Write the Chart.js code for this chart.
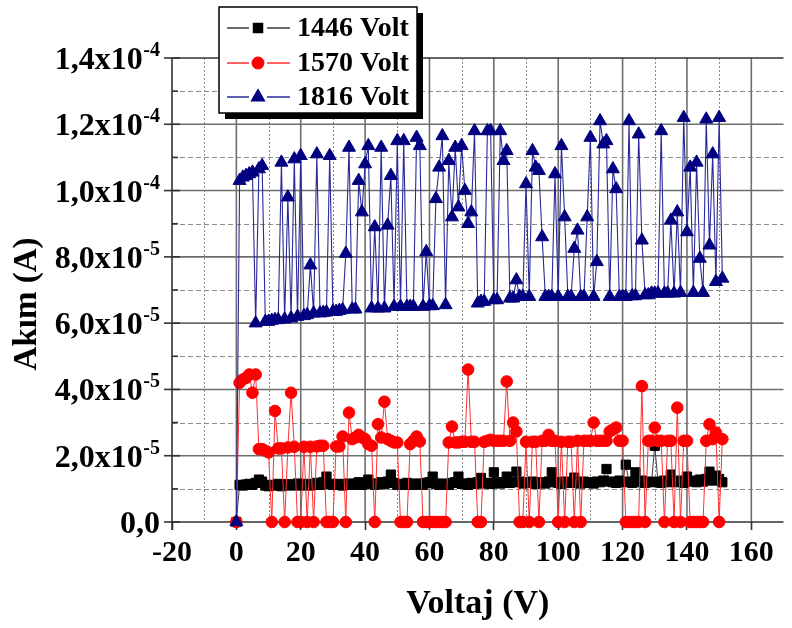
<!DOCTYPE html>
<html><head><meta charset="utf-8">
<script src="https://cdn.jsdelivr.net/npm/chart.js@4"></script>
<style>html,body{margin:0;padding:0;background:#fff}#wrap{width:792px;height:628px;position:relative}</style>
</head><body><div id="wrap"><canvas id="c" width="792" height="628"></canvas></div>
<script>
// Voltaj (V)
const voltaj = [0,1,2,3,4,5,6,7,8,9,10,11,12,13,14,15,16,17,18,19,20,21,22,23,24,25,26,27,28,29,30,31,32,33,34,35,36,37,38,39,40,41,42,43,44,45,46,47,48,49,50,51,52,53,54,55,56,57,58,59,60,61,62,63,64,65,66,67,68,69,70,71,72,73,74,75,76,77,78,79,80,81,82,83,84,85,86,87,88,89,90,91,92,93,94,95,96,97,98,99,100,101,102,103,104,105,106,107,108,109,110,111,112,113,114,115,116,117,118,119,120,121,122,123,124,125,126,127,128,129,130,131,132,133,134,135,136,137,138,139,140,141,142,143,144,145,146,147,148,149,150,151];
// Akım in units of 1e-5 A
const akim1446 = [0,1.12,1.1,1.13,1.15,1.12,1.18,1.28,1.22,1.1,1.08,1.12,1.1,1.15,1.08,1.12,1.14,1.1,1.12,1.16,1.1,1.12,1.15,1.1,1.13,1.18,1.12,1.2,1.37,1.15,1.12,1.12,1.15,1.1,1.14,1.16,1.12,1.15,1.2,1.12,1.18,1.28,1.15,1.12,1.16,1.2,1.14,1.22,1.43,1.18,1.12,1.15,1.12,1.18,1.14,1.12,1.16,1.15,1.12,1.18,1.2,1.37,1.15,1.12,1.16,1.14,1.12,1.18,1.2,1.37,1.15,1.16,1.12,1.18,1.15,1.2,1.33,1.16,1.18,1.15,1.5,1.2,1.16,1.2,1.37,1.18,1.2,1.52,1.22,1.16,1.2,1.18,1.22,1.15,1.2,1.18,1.16,1.22,1.5,1.2,1.18,1.15,1.22,1.2,1.18,1.34,1.2,1.16,1.22,1.18,1.2,1.16,1.22,1.2,1.25,1.6,1.22,1.2,1.18,1.25,1.2,1.73,1.22,1.18,1.5,1.2,1.25,1.18,1.22,1.2,2.3,1.22,1.18,1.25,1.2,1.43,1.22,1.2,1.25,1.18,1.37,1.22,1.25,1.2,1.28,1.22,1.3,1.52,1.25,1.4,1.3,1.2];
const akim1570 = [0,4.2,4.3,4.35,4.45,3.9,4.45,2.2,2.2,2.15,2.1,0,3.35,2.22,2.22,0,2.25,3.9,2.27,0,0,2.27,0,2.27,0,2.28,2.3,2.3,0,0,0,2.28,2.28,2.58,0,3.3,2.5,2.55,2.63,2.55,2.5,2.35,2.3,0,2.95,2.55,3.63,2.5,2.45,2.4,2.4,0,0,0,2.35,2.45,2.58,2.43,0,0,0,0,0,0,0,0,2.4,2.88,2.4,2.4,2.42,2.42,4.6,2.42,2.42,0,0,2.42,2.45,2.48,2.45,2.45,2.45,2.45,4.24,2.45,3.0,2.73,0,0,2.42,0,2.42,2.42,0,2.45,2.45,2.63,2.45,2.45,0,2.42,0,2.42,2.42,0,2.45,0,2.45,2.45,2.45,3.0,2.45,2.45,2.45,2.45,2.73,2.79,2.85,2.45,2.45,0,0,0,0,0,4.1,0,2.45,2.45,2.85,2.45,2.45,0,2.45,2.45,0,3.45,0,2.45,2.45,0,0,0,0,0,2.45,2.95,2.5,2.7,0,2.5];
const akim1816 = [0,10.3,10.4,10.45,10.5,10.55,6.0,10.65,10.75,6.05,6.05,6.08,6.1,6.1,10.85,6.12,9.8,6.15,10.95,6.2,11.05,6.22,6.25,7.75,6.3,11.1,6.3,6.32,6.33,11.05,6.35,6.35,6.38,6.4,8.1,11.3,6.42,6.42,10.3,9.35,10.8,11.35,6.45,8.9,6.45,11.3,6.45,8.95,10.45,6.5,11.5,6.5,11.5,6.5,6.5,6.5,11.6,11.35,6.5,8.15,6.52,6.52,9.75,10.7,11.65,6.55,10.9,9.2,11.3,9.5,11.35,10.0,9.0,9.35,11.8,6.6,6.65,6.65,11.8,11.8,6.7,6.7,11.8,10.9,11.2,6.75,6.75,7.3,6.8,6.8,10.2,6.8,11.2,10.7,10.6,8.6,6.8,6.8,6.8,10.5,6.8,11.35,9.2,6.8,6.8,8.25,8.8,6.8,6.8,9.2,11.6,6.8,7.85,12.1,11.4,11.5,6.8,10.65,10.05,6.8,6.8,6.8,12.1,6.82,6.82,11.7,8.5,6.85,6.85,6.9,6.9,6.9,11.8,6.9,6.9,9.1,6.9,9.35,6.92,12.2,8.75,10.7,6.92,10.85,7.95,6.92,12.15,8.35,11.1,7.25,12.2,7.35];

const seriesNames = ['1446 Volt','1570 Volt','1816 Volt'];
const yTickValues = [0,2,4,6,8,10,12,14];
const yTickMantissas = ['0,0','2,0x10','4,0x10','6,0x10','8,0x10','1,0x10','1,2x10','1,4x10'];
const yTickExponents = ['','-5','-5','-5','-5','-4','-4','-4'];
const xTitle = 'Voltaj (V)';
const yTitle = 'Akım (A)';

const SERIF = '"Liberation Serif", "Times New Roman", serif';

function pts(ys){ return voltaj.map((x,i)=>({x:x, y:ys[i]})); }

const gridPlugin = {
  id:'gridPlugin',
  beforeDatasetsDraw(chart){
    const {ctx, chartArea:a, scales:{x,y}} = chart;
    ctx.save();
    ctx.strokeStyle = '#8a8a8a'; ctx.lineWidth = 1; ctx.setLineDash([2,2]);
    for (let v=-10; v<=170; v+=20){ const px=Math.round(x.getPixelForValue(v))+0.5; if(px>a.left+1 && px<=a.right){ctx.beginPath();ctx.moveTo(px,a.top);ctx.lineTo(px,a.bottom);ctx.stroke();} }
    ctx.setLineDash([5,3]);
    for (let v=1; v<14; v+=2){ const py=Math.round(y.getPixelForValue(v))+0.5; ctx.beginPath();ctx.moveTo(a.left,py);ctx.lineTo(a.right,py);ctx.stroke(); }
    ctx.setLineDash([]);
    ctx.strokeStyle = '#6e6e6e'; ctx.lineWidth = 1.6;
    for (let v=0; v<=160; v+=20){ const px=x.getPixelForValue(v); ctx.beginPath();ctx.moveTo(px,a.top);ctx.lineTo(px,a.bottom);ctx.stroke(); }
    for (let v=2; v<14; v+=2){ const py=y.getPixelForValue(v); ctx.beginPath();ctx.moveTo(a.left,py);ctx.lineTo(a.right,py);ctx.stroke(); }
    ctx.strokeStyle = '#333'; ctx.lineWidth = 1.6;
    ctx.beginPath(); ctx.moveTo(a.left,a.top); ctx.lineTo(a.right,a.top); ctx.stroke();
    ctx.beginPath(); ctx.moveTo(a.left,a.top); ctx.lineTo(a.left,a.bottom+8); ctx.stroke();
    ctx.beginPath(); ctx.moveTo(a.left,a.bottom); ctx.lineTo(a.right,a.bottom); ctx.stroke();
    for (let v=0; v<=14; v+=1){
      const py=y.getPixelForValue(v);
      ctx.beginPath();
      if (v%2===0){ ctx.moveTo(a.left-8,py); ctx.lineTo(a.left+8,py); }
      else { ctx.moveTo(a.left,py); ctx.lineTo(a.left+6,py); }
      ctx.stroke();
    }
    ctx.restore();
  },
  afterDraw(chart){
    const {ctx, chartArea:a, scales:{y}} = chart;
    ctx.save();
    ctx.fillStyle = '#000';
    const baseFont = 'bold 32px '+SERIF, supFont = 'bold 20px '+SERIF;
    ctx.textAlign='right'; ctx.textBaseline='alphabetic';
    yTickValues.forEach((v,i)=>{
      const py = y.getPixelForValue(v);
      let right = 160;
      const ex = yTickExponents[i];
      if (ex){ ctx.font=supFont; const w=ctx.measureText(ex).width; ctx.fillText(ex,right,py-2); right -= w+0.5; }
      ctx.font = baseFont; ctx.fillText(yTickMantissas[i], right, py+11);
    });
    ctx.save();
    ctx.translate(27,304); ctx.rotate(-Math.PI/2);
    ctx.font = 'bold 33px '+SERIF; ctx.textAlign='center'; ctx.textBaseline='middle';
    ctx.fillText(yTitle,0,0);
    ctx.restore();
    const L=219, T=7, W=198, H=106;
    ctx.fillStyle='#000'; ctx.fillRect(L+6,T+6,W,H);
    ctx.fillStyle='#fff'; ctx.fillRect(L,T,W,H);
    ctx.strokeStyle='#000'; ctx.lineWidth=1.5; ctx.strokeRect(L,T,W,H);
    const rows=[28,63,97];
    chart.data.datasets.forEach((ds,i)=>{
      const cy = rows[i];
      ctx.strokeStyle = ds.borderColor; ctx.lineWidth = 1.3;
      ctx.beginPath(); ctx.moveTo(227,cy); ctx.lineTo(249,cy); ctx.moveTo(267,cy); ctx.lineTo(290,cy); ctx.stroke();
      ctx.fillStyle = ds.pointBackgroundColor; ctx.strokeStyle = ds.pointBorderColor;
      Chart.helpers.drawPoint(ctx,{pointStyle:ds.pointStyle, radius:ds.pointRadius, rotation:0, borderWidth:1}, 258, cy);
      ctx.fillStyle='#000'; ctx.font='bold 28px '+SERIF; ctx.textAlign='left'; ctx.textBaseline='middle';
      ctx.fillText(seriesNames[i], 297, cy+1);
    });
    ctx.restore();
  }
};

new Chart(document.getElementById('c'), {
  type:'line',
  data:{ datasets:[
    {label:seriesNames[0], data:pts(akim1446), borderColor:'#404040', borderWidth:1, pointStyle:'rect', pointRadius:6.5, pointBackgroundColor:'#000', pointBorderColor:'#000', pointBorderWidth:1, order:3, clip:false},
    {label:seriesNames[1], data:pts(akim1570), borderColor:'#ff3030', borderWidth:1, pointStyle:'circle', pointRadius:5.8, pointBackgroundColor:'#ff0000', pointBorderColor:'#ff0000', pointBorderWidth:1, order:2, clip:false},
    {label:seriesNames[2], data:pts(akim1816), borderColor:'#2a2a9a', borderWidth:1.1, pointStyle:'triangle', pointRadius:7.5, pointBackgroundColor:'#000080', pointBorderColor:'#000080', pointBorderWidth:1, order:1, clip:false}
  ]},
  options:{
    responsive:false, animation:false, devicePixelRatio:1,
    layout:{padding:{top:58,left:0,right:0,bottom:0}},
    plugins:{legend:{display:false}, tooltip:{enabled:false}},
    elements:{line:{tension:0}},
    scales:{
      x:{type:'linear', min:-20, max:170,
        ticks:{stepSize:20, includeBounds:false, autoSkip:false, maxRotation:0, color:'#000', padding:5, font:{family:SERIF, weight:'bold', size:30}},
        grid:{drawOnChartArea:false, tickLength:8, tickColor:'#333', tickWidth:1.6},
        border:{display:false},
        title:{display:true, text:xTitle, color:'#000', font:{family:SERIF, weight:'bold', size:34}, padding:{top:0,bottom:3}},
        afterFit(s){ s.height = 106; }
      },
      y:{type:'linear', min:0, max:14,
        ticks:{display:false, stepSize:2},
        grid:{display:false}, border:{display:false},
        afterFit(s){ s.width = 172; }
      }
    }
  },
  plugins:[gridPlugin]
});
</script></body></html>
